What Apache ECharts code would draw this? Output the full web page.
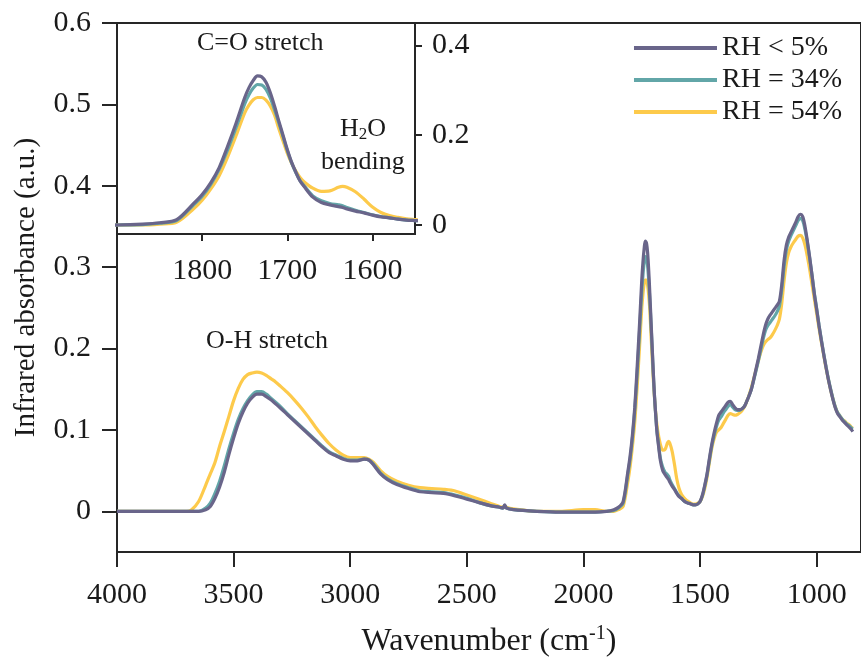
<!DOCTYPE html>
<html><head><meta charset="utf-8">
<script src="https://cdn.jsdelivr.net/npm/echarts@6/dist/echarts.min.js"></script>
<style>html,body{margin:0;padding:0;background:#fff}#c{width:861px;height:666px}</style>
</head><body><div id="c"></div>
<script>
var wavenumber = [4000,3900,3800,3700,3680,3650,3620,3600,3580,3560,3540,3520,3500,3480,3460,3440,3420,3400,3380,3360,3340,3320,3300,3270,3240,3210,3180,3150,3120,3090,3060,3030,3000,2970,2940,2920,2900,2870,2840,2800,2750,2700,2650,2600,2550,2500,2450,2400,2360,2345,2338,2330,2300,2200,2100,2000,1950,1900,1870,1850,1830,1810,1800,1790,1780,1770,1760,1750,1745,1740,1735,1730,1725,1720,1715,1710,1705,1700,1695,1690,1685,1680,1670,1660,1650,1640,1635,1630,1620,1610,1600,1590,1580,1570,1560,1550,1540,1530,1520,1510,1500,1490,1480,1470,1460,1450,1440,1430,1420,1410,1400,1390,1380,1370,1360,1350,1340,1330,1320,1310,1300,1290,1280,1270,1260,1250,1240,1230,1220,1210,1200,1190,1180,1170,1160,1150,1140,1130,1120,1110,1100,1090,1080,1070,1060,1050,1040,1030,1020,1010,1000,990,980,970,960,950,940,930,920,910,900,890,880,870,860,850,845];

var rhDry = [0,0,0,0,0,0,0.002,0.006,0.016,0.03,0.048,0.07,0.09,0.108,0.122,0.133,0.14,0.144,0.144,0.141,0.137,0.132,0.127,0.119,0.111,0.103,0.095,0.087,0.079,0.072,0.068,0.064,0.062,0.062,0.064,0.063,0.057,0.046,0.039,0.033,0.028,0.024,0.023,0.022,0.019,0.015,0.011,0.007,0.005,0.004,0.008,0.004,0.002,0,-0.001,-0.001,-0.001,0,0.002,0.005,0.012,0.048,0.068,0.094,0.128,0.176,0.228,0.284,0.306,0.322,0.332,0.33,0.318,0.295,0.265,0.232,0.2,0.168,0.14,0.118,0.098,0.085,0.062,0.05,0.045,0.041,0.039,0.036,0.031,0.027,0.022,0.018,0.016,0.013,0.011,0.01,0.009,0.008,0.008,0.009,0.012,0.02,0.032,0.046,0.065,0.082,0.096,0.108,0.118,0.122,0.126,0.13,0.134,0.135,0.131,0.127,0.125,0.125,0.126,0.129,0.135,0.142,0.15,0.162,0.175,0.188,0.202,0.216,0.228,0.236,0.241,0.245,0.249,0.253,0.258,0.278,0.308,0.327,0.337,0.343,0.349,0.355,0.362,0.365,0.362,0.35,0.332,0.312,0.29,0.267,0.248,0.228,0.21,0.193,0.177,0.162,0.149,0.137,0.127,0.12,0.116,0.112,0.109,0.106,0.103,0.1,0.098];

var rh34 = [0,0,0,0,0,0,0.004,0.01,0.022,0.037,0.056,0.077,0.096,0.113,0.126,0.136,0.143,0.147,0.147,0.144,0.139,0.134,0.129,0.12,0.112,0.104,0.096,0.088,0.08,0.073,0.069,0.065,0.063,0.063,0.064,0.063,0.058,0.047,0.04,0.034,0.029,0.025,0.024,0.023,0.02,0.016,0.011,0.007,0.005,0.004,0.007,0.004,0.002,0,-0.001,-0.001,-0.001,0,0.001,0.004,0.01,0.045,0.064,0.09,0.124,0.168,0.218,0.27,0.29,0.305,0.313,0.312,0.302,0.283,0.257,0.228,0.197,0.166,0.139,0.117,0.099,0.087,0.065,0.054,0.048,0.045,0.043,0.039,0.033,0.028,0.023,0.019,0.016,0.013,0.011,0.01,0.009,0.008,0.008,0.009,0.012,0.019,0.031,0.045,0.063,0.08,0.093,0.104,0.112,0.116,0.121,0.125,0.129,0.131,0.128,0.125,0.124,0.124,0.126,0.129,0.135,0.142,0.15,0.161,0.173,0.185,0.198,0.211,0.222,0.228,0.232,0.236,0.24,0.245,0.252,0.272,0.3,0.321,0.332,0.339,0.345,0.351,0.357,0.36,0.357,0.346,0.33,0.311,0.29,0.268,0.249,0.229,0.211,0.194,0.178,0.163,0.15,0.138,0.128,0.121,0.117,0.113,0.11,0.107,0.105,0.102,0.101];

var rh54 = [0,0,0,0,0.002,0.012,0.032,0.046,0.06,0.08,0.098,0.117,0.136,0.151,0.162,0.168,0.17,0.171,0.17,0.167,0.163,0.159,0.154,0.146,0.137,0.127,0.116,0.104,0.093,0.083,0.075,0.069,0.066,0.066,0.066,0.064,0.06,0.05,0.043,0.037,0.032,0.029,0.028,0.027,0.025,0.02,0.015,0.01,0.006,0.005,0.007,0.005,0.003,0,0,0.002,0.002,0,0,0.002,0.006,0.036,0.055,0.08,0.11,0.152,0.2,0.25,0.267,0.279,0.284,0.284,0.278,0.265,0.245,0.215,0.187,0.16,0.138,0.12,0.106,0.096,0.082,0.075,0.076,0.084,0.086,0.084,0.074,0.058,0.04,0.028,0.021,0.017,0.014,0.012,0.01,0.009,0.009,0.01,0.012,0.018,0.028,0.042,0.06,0.077,0.089,0.097,0.1,0.103,0.108,0.113,0.118,0.12,0.119,0.118,0.119,0.121,0.124,0.128,0.135,0.143,0.152,0.163,0.174,0.185,0.195,0.203,0.208,0.211,0.213,0.217,0.222,0.228,0.236,0.255,0.283,0.305,0.318,0.325,0.33,0.334,0.338,0.339,0.336,0.327,0.313,0.297,0.279,0.261,0.243,0.225,0.208,0.192,0.176,0.162,0.149,0.138,0.128,0.121,0.117,0.113,0.111,0.108,0.106,0.103,0.102];

var seriesNames = ['RH < 5%','RH = 34%','RH = 54%'];
var seriesColors = ['#69658a','#62a6a8','#fdca4b'];
var mainXTicks = [1000,1500,2000,2500,3000,3500,4000];
var mainYTicks = [0,0.1,0.2,0.3,0.4,0.5,0.6];
var insetXTicks = [1600,1700,1800];
var insetYTicks = [0,0.2,0.4];

function pairs(v){ return wavenumber.map(function(w,i){ return [w, v[i]]; }); }
var values = [rhDry, rh34, rh54];
var font = 'Liberation Serif';
var axisCol = '#262626';
var txt = '#1a1a1a';

var series = [];
[2,1,0].forEach(function(k){
  series.push({name: seriesNames[k], type:'line', xAxisIndex:0, yAxisIndex:0, data: pairs(values[k]), showSymbol:false, smooth:0.3,
    lineStyle:{color: seriesColors[k], width:3.2}, itemStyle:{color: seriesColors[k]}, z: 3+(2-k), animation:false});
  series.push({name: seriesNames[k], type:'line', xAxisIndex:1, yAxisIndex:1, data: pairs(values[k]), showSymbol:false, smooth:0.3, clip:true,
    lineStyle:{color: seriesColors[k], width:3.2}, itemStyle:{color: seriesColors[k]}, z: 3+(2-k), animation:false});
});

function fmt(v){ return v === 0 ? '0' : String(v); }
function plain(v){ return String(v); }

var option = {
  animation:false,
  backgroundColor:'#fff',
  grid:[
    {left:117, top:23, width:744, height:529, show:true, borderColor:axisCol, borderWidth:2, backgroundColor:'transparent'},
    {left:117, top:23, width:298, height:211, show:true, borderColor:axisCol, borderWidth:2, backgroundColor:'transparent'}
  ],
  legend:{
    data: seriesNames, orient:'vertical', right:14, top:29, itemGap:4,
    itemWidth:83, itemHeight:4, icon:'rect',
    textStyle:{fontFamily:font, fontSize:28, color:txt}
  },
  xAxis:[
    {gridIndex:0, type:'value', inverse:true, min:810, max:4000,
     name:'Wavenumber (cm{sup|-1})', nameLocation:'middle', nameGap:72,
     nameTextStyle:{fontFamily:font, fontSize:32, color:txt, rich:{sup:{fontFamily:font, fontSize:20, verticalAlign:'top', padding:[0,0,16,0], color:txt}}},
     axisLine:{show:true, onZero:false, lineStyle:{color:axisCol, width:2}},
     axisTick:{show:true, inside:false, length:15, lineStyle:{color:axisCol, width:2}, customValues: mainXTicks},
     axisLabel:{fontFamily:font, fontSize:30, color:txt, margin:28, formatter: plain, customValues: mainXTicks},
     splitLine:{show:false}},
    {gridIndex:1, type:'value', inverse:true, min:1550, max:1900,
     axisLine:{show:true, onZero:false, lineStyle:{color:axisCol, width:2}},
     axisTick:{show:true, inside:false, length:7, lineStyle:{color:axisCol, width:2}, customValues: insetXTicks},
     axisLabel:{fontFamily:font, fontSize:30, color:txt, margin:22, formatter: plain, customValues: insetXTicks},
     splitLine:{show:false}}
  ],
  yAxis:[
    {gridIndex:0, type:'value', min:-0.05, max:0.6,
     name:'Infrared absorbance (a.u.)', nameLocation:'middle', nameGap:76,
     nameTextStyle:{fontFamily:font, fontSize:29, color:txt},
     axisLine:{show:true, onZero:false, lineStyle:{color:axisCol, width:2}},
     axisTick:{show:true, inside:false, length:15, lineStyle:{color:axisCol, width:2}, customValues: mainYTicks},
     axisLabel:{fontFamily:font, fontSize:30, color:txt, margin:26, formatter: fmt, customValues: mainYTicks},
     splitLine:{show:false}},
    {gridIndex:1, type:'value', position:'right', min:-0.02, max:0.45,
     axisLine:{show:true, onZero:false, lineStyle:{color:axisCol, width:2}},
     axisTick:{show:true, inside:false, length:7, lineStyle:{color:axisCol, width:2}, customValues: insetYTicks},
     axisLabel:{fontFamily:font, fontSize:30, color:txt, margin:17, formatter: fmt, customValues: insetYTicks},
     splitLine:{show:false}}
  ],
  graphic:[
    {type:'text', left:197, top:30, style:{text:'C=O stretch', font:'26px "Liberation Serif"', fill:txt}},
    {type:'text', left:340, top:116, style:{text:'H{sub|2}O', font:'26px "Liberation Serif"', fill:txt, rich:{sub:{fontSize:17, fontFamily:font, verticalAlign:'bottom', padding:[12,0,0,0], fill:txt}}}},
    {type:'text', left:321, top:149, style:{text:'bending', font:'26px "Liberation Serif"', fill:txt}},
    {type:'text', left:206, top:328, style:{text:'O-H stretch', font:'26px "Liberation Serif"', fill:txt}}
  ],
  series: series
};
var chart = echarts.init(document.getElementById('c'), null, {renderer:'canvas'});
chart.setOption(option);
</script></body></html>
